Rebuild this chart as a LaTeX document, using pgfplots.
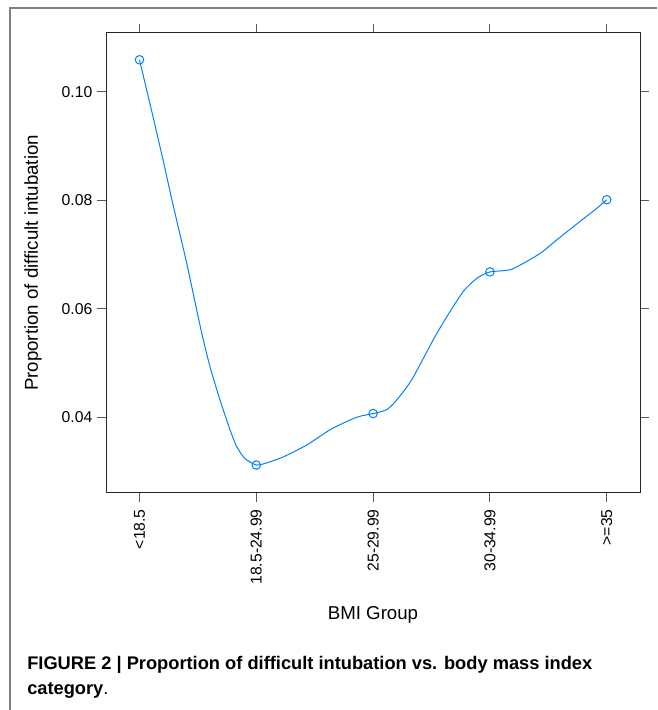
\documentclass[border=0pt]{standalone}
\usepackage{fontspec}
\setmainfont{Liberation Sans}
\usepackage{pgfplots}
\pgfplotsset{compat=1.18}
\definecolor{latblue}{HTML}{0080FF}
\definecolor{framegray}{HTML}{808080}

% smooth fit
\pgfplotstableread{
x y
1     0.1059
1.118 0.0952
1.204 0.0872
1.289 0.0790
1.398 0.0690
1.461 0.0627
1.533 0.0555
1.604 0.0493
1.689 0.0432
1.775 0.0377
1.832 0.0346
1.903 0.0324
2     0.0312
2.074 0.0315
2.231 0.0327
2.432 0.0349
2.631 0.0377
2.802 0.0395
2.888 0.0402
3     0.0407
3.116 0.0414
3.202 0.0432
3.330 0.0469
3.515 0.0543
3.630 0.0585
3.772 0.0632
3.887 0.0656
4     0.0668
4.187 0.0673
4.429 0.0702
4.572 0.0727
4.771 0.0761
4.914 0.0785
5     0.0801
}\fitcurve
% observed proportions
\pgfplotstableread{
x y
1 0.1059
2 0.0312
3 0.0407
4 0.0668
5 0.0801
}\observed

\begin{document}
\begin{tikzpicture}[x=0.75pt,y=0.75pt]
\useasboundingbox (0,0) rectangle (657,710);
\draw[framegray, line width=1.1pt] (10,0) -- (10,702) -- (657,702);
\begin{axis}[
  at={(79.5pt,162.75pt)}, anchor=south west,
  scale only axis, width=400.5pt, height=345pt,
  xmin=0.7132, xmax=5.285,
  ymin=0.02605, ymax=0.11084,
  axis line style={black!85, line width=0.75pt},
  tick align=outside,
  major tick length=6.75pt,
  tick style={black!65, line width=0.75pt},
  xtick={1,2,3,4,5},
  xticklabels={{<18.5},{18.5-24.99},{25-29.99},{30-34.99},{>=35}},
  xticklabel style={rotate=90, anchor=east, font=\fontsize{11.8}{13}\selectfont, xshift=-2pt},
  ytick={0.04,0.06,0.08,0.10},
  yticklabel style={font=\fontsize{11.8}{13}\selectfont,
    /pgf/number format/fixed, /pgf/number format/fixed zerofill,
    /pgf/number format/precision=2, /pgf/number format/assume math mode=true},
  xlabel={BMI Group},
  ylabel={Proportion of difficult intubation},
  label style={font=\fontsize{14}{16}\selectfont},
  xlabel style={at={(axis description cs:0.5,-0.2652)}, anchor=center},
  ylabel style={at={(axis description cs:-0.1367,0.5)}, anchor=center},
  clip=false,
]
\addplot[latblue, line width=0.75pt, smooth, tension=0.4, no marks] table {\fitcurve};
\addplot[latblue, line width=0.75pt, only marks, mark=o, mark size=3.2pt] table {\observed};
\end{axis}
\node[anchor=base west, inner sep=0pt, font=\fontsize{13.7}{16}\selectfont\bfseries] at (27,40)
  {FIGURE 2 | Proportion of difficult intubation vs. body mass index};
\node[anchor=base west, inner sep=0pt, font=\fontsize{13.7}{16}\selectfont] at (27,15)
  {\textbf{category}.};
\end{tikzpicture}
\end{document}
